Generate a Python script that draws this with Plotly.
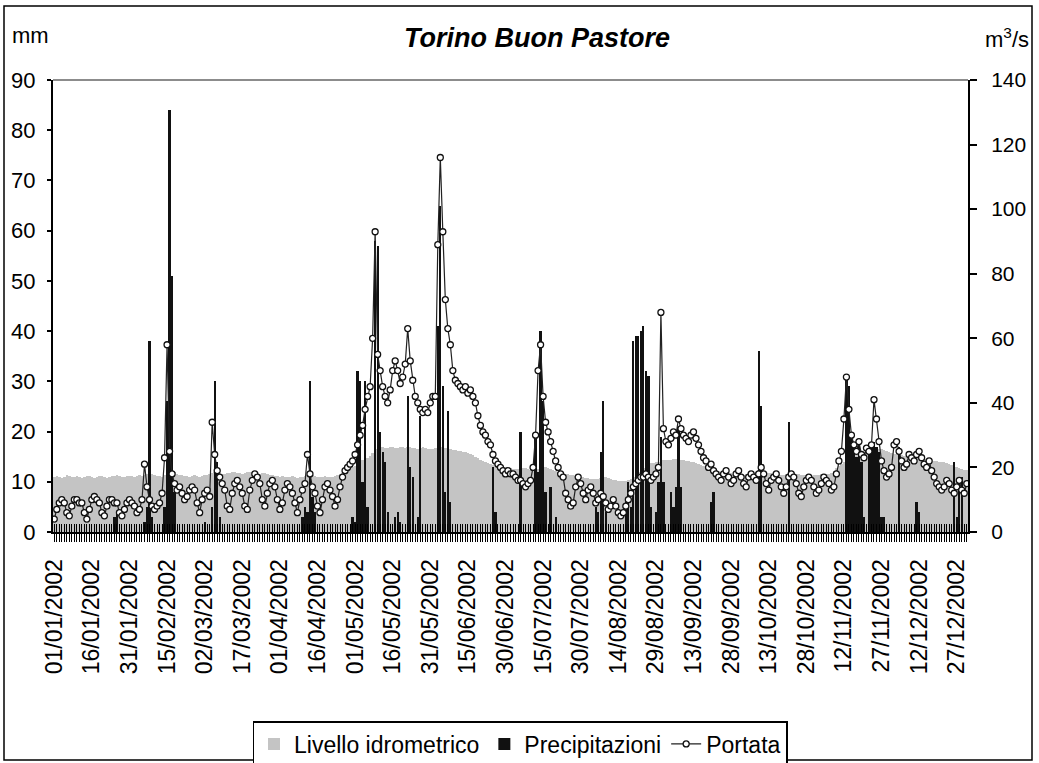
import pandas as pd
import plotly.graph_objects as go

# ---------------- data ----------------
tick_labels = ["01/01/2002", "16/01/2002", "31/01/2002", "15/02/2002", "02/03/2002",
               "17/03/2002", "01/04/2002", "16/04/2002", "01/05/2002", "16/05/2002",
               "31/05/2002", "15/06/2002", "30/06/2002", "15/07/2002", "30/07/2002",
               "14/08/2002", "29/08/2002", "13/09/2002", "28/09/2002", "13/10/2002",
               "28/10/2002", "12/11/2002", "27/11/2002", "12/12/2002", "27/12/2002"]

# Livello idrometrico (grey area, left axis)
liv_jan = [11, 11.2, 11, 10.8, 11, 11.3, 11.1, 10.9, 11, 11.2, 11, 10.8, 10.9, 11.2, 11.1, 11, 10.8, 11, 11.2, 11.1,
           10.9, 10.8, 11, 11.2, 11.1, 11.4, 11.2, 11, 10.9, 11.1, 11.2]
liv_feb = [11.2, 11, 11.1, 11.3, 11.2, 11.4, 11.6, 11.8, 11.5, 11.3, 11.2, 11.1, 11, 11.3, 11.6, 12, 12.2, 11.9, 11.6, 11.4,
           11.3, 11.2, 11.1, 11, 11.2, 11.3, 11.1, 11]
liv_mar = [11.2, 11.3, 11.4, 11.6, 11.8, 12, 11.9, 11.7, 11.6, 11.5, 11.7, 11.8, 11.9, 12, 11.8, 11.7, 11.6, 11.8, 11.9, 12,
           11.9, 11.7, 11.6, 11.5, 11.7, 11.8, 11.6, 11.4, 11.3, 11.2, 11.1]
liv_apr = [11, 11.1, 11, 10.9, 11, 11.1, 11, 10.8, 10.9, 11, 11.2, 11.3, 11.5, 11.4, 11.2, 11, 10.9, 11, 11.1, 11,
           10.9, 11, 11.2, 11.4, 11.6, 11.8, 12, 12.3, 12.6, 13]
liv_may = [13.2, 13.5, 14, 14.3, 14.5, 14.8, 15.2, 15.8, 16.3, 16.6, 16.8, 16.9, 16.7, 16.8, 17, 16.9, 16.8, 16.7, 16.9, 17,
           16.8, 16.9, 17, 16.8, 16.7, 16.6, 16.8, 16.9, 16.7, 16.6, 16.5]
liv_jun = [16.6, 16.8, 17, 16.9, 16.8, 16.7, 16.6, 16.5, 16.4, 16.3, 16.2, 16.1, 16, 15.9, 15.8, 15.6, 15.3, 15, 14.7, 14.4,
           14.1, 13.9, 13.7, 13.5, 13.4, 13.3, 13.2, 13.1, 13, 12.9]
liv_jul = [12.8, 12.7, 12.6, 12.6, 12.5, 12.6, 12.8, 12.7, 12.5, 12.4, 12.3, 12.4, 12.6, 13, 13.2, 13, 12.8, 12.5, 12.3, 12.1,
           12, 11.8, 11.7, 11.6, 11.5, 11.4, 11.3, 11.2, 11.1, 11, 10.9]
liv_aug = [10.8, 10.7, 10.6, 10.6, 10.5, 10.6, 10.8, 11, 10.9, 10.7, 10.5, 10.4, 10.3, 10.2, 10.2, 10.1, 10.2, 10.4, 10.6, 11,
           11.5, 12, 12.4, 12.8, 13.2, 13.5, 13.7, 13.8, 13.9, 14, 14.2]
liv_sep = [14.3, 14.4, 14.3, 14.4, 14.5, 14.6, 14.5, 14.4, 14.3, 14.2, 14.1, 14, 13.9, 13.7, 13.5, 13.3, 13.1, 12.9, 12.7, 12.5,
           12.4, 12.3, 12.1, 12, 11.9, 11.8, 11.8, 11.7, 11.6, 11.6]
liv_oct = [11.5, 11.5, 11.4, 11.5, 11.6, 11.7, 11.8, 12, 12.3, 12.4, 12.2, 12, 11.8, 11.7, 11.6, 11.5, 11.5, 11.4, 11.4, 11.5,
           11.8, 11.9, 11.7, 11.6, 11.5, 11.4, 11.3, 11.3, 11.2, 11.2, 11.3]
liv_nov = [11.3, 11.4, 11.5, 11.6, 11.5, 11.6, 11.8, 12.2, 12.7, 13.2, 13.6, 14, 14.4, 14.8, 15, 15.2, 15.4, 15.6, 15.8, 16,
           16.1, 16.2, 16.3, 16.4, 16.5, 16.6, 16.5, 16.4, 16.2, 16]
liv_dec = [15.8, 15.6, 15.5, 15.4, 15.3, 15.2, 15.1, 15, 14.9, 14.8, 14.8, 14.7, 14.6, 14.5, 14.5, 14.4, 14.3, 14.2, 14.1, 14,
           14, 13.9, 13.7, 13.5, 13.3, 13.1, 12.9, 12.7, 12.5, 12.4, 12.3]

# Precipitazioni (black bars, mm, left axis)
pre_jan = [0, 0, 0, 0, 0, 0, 0, 0, 0, 0, 0, 0, 0, 0, 0, 0, 0, 0, 0, 0, 0, 0, 0, 0, 3, 4, 0, 0, 0, 0, 0]
pre_feb = [0, 0, 0, 0, 0, 2, 5, 38, 3, 0, 0, 0, 0, 5, 26, 84, 51, 8, 0, 0, 0, 0, 0, 0, 0, 0, 0, 0]
pre_mar = [0, 2, 0, 0, 5, 30, 14, 3, 0, 0, 0, 0, 0, 0, 0, 0, 0, 0, 0, 0, 0, 0, 0, 0, 0, 0, 0, 0, 0, 0, 0]
pre_apr = [0, 0, 0, 0, 0, 0, 0, 0, 0, 3, 5, 4, 30, 7, 4, 0, 0, 0, 0, 0, 0, 0, 0, 0, 0, 0, 0, 0, 0, 3]
pre_may = [2, 32, 30, 10, 30, 5, 0, 0, 58, 57, 20, 16, 14, 4, 0, 0, 3, 4, 2, 0, 0, 27, 13, 11, 0, 3, 23, 0, 0, 0, 0]
pre_jun = [0, 0, 41, 65, 29, 8, 24, 6, 0, 0, 0, 0, 0, 0, 0, 0, 0, 0, 0, 0, 0, 0, 0, 0, 13, 4, 0, 0, 0, 0]
pre_jul = [0, 0, 0, 0, 0, 20, 0, 0, 0, 0, 0, 20, 12, 40, 26, 8, 0, 9, 0, 3, 0, 0, 0, 0, 0, 0, 0, 0, 0, 0, 0]
pre_aug = [0, 0, 0, 0, 5, 4, 16, 26, 4, 0, 0, 0, 0, 0, 0, 0, 6, 10, 5, 38, 39, 39, 40, 41, 32, 31, 5, 0, 4, 10, 19]
pre_sep = [10, 0, 0, 8, 5, 9, 21, 9, 0, 0, 0, 0, 0, 0, 0, 0, 0, 0, 0, 6, 8, 0, 0, 0, 0, 0, 0, 0, 0, 0]
pre_oct = [0, 0, 0, 0, 0, 0, 0, 0, 36, 25, 0, 0, 0, 0, 0, 0, 0, 0, 0, 0, 22, 0, 0, 0, 0, 0, 0, 0, 0, 0, 0]
pre_nov = [0, 0, 0, 0, 0, 0, 0, 0, 0, 0, 0, 0, 31, 29, 20, 17, 15, 18, 14, 3, 0, 17, 18, 18, 17, 16, 3, 3, 0, 0]
pre_dec = [0, 0, 0, 17, 0, 0, 0, 0, 0, 0, 6, 4, 0, 0, 0, 0, 0, 0, 0, 0, 0, 0, 0, 0, 0, 14, 3, 10, 11, 0, 0]

# Portata (line, m3/s, right axis)
por_jan = [4, 7, 9, 10, 9, 6, 5, 8, 10, 10, 9, 9, 6, 4, 7, 10, 11, 10, 9, 6, 5, 8, 10, 10, 9, 9, 6, 5, 7, 9, 10]
por_feb = [9, 8, 6, 7, 10, 21, 14, 10, 8, 7, 8, 9, 12, 23, 58, 25, 18, 15, 13, 14, 12, 10, 11, 13, 14, 13, 9, 6]
por_mar = [10, 12, 13, 11, 34, 24, 19, 17, 15, 13, 8, 7, 12, 15, 16, 14, 12, 8, 7, 13, 16, 18, 17, 15, 10, 8, 12, 15, 16, 14, 10]
por_apr = [7, 9, 13, 15, 14, 12, 9, 6, 10, 13, 15, 24, 18, 14, 12, 8, 6, 10, 14, 15, 13, 11, 8, 10, 14, 17, 19, 20, 21, 22]
por_may = [24, 27, 30, 33, 38, 42, 45, 60, 93, 55, 50, 45, 42, 40, 44, 50, 53, 50, 46, 48, 52, 63, 53, 47, 42, 40, 38, 37, 38, 37, 40]
por_jun = [42, 42, 89, 116, 93, 72, 63, 58, 50, 47, 46, 45, 44, 45, 43, 44, 42, 40, 36, 33, 31, 30, 28, 27, 24, 22, 21, 20, 19, 18]
por_jul = [19, 18, 18, 17, 16, 16, 15, 14, 15, 16, 20, 30, 50, 58, 42, 34, 31, 28, 25, 22, 20, 18, 17, 12, 10, 8, 9, 14, 17, 15, 12]
por_aug = [10, 13, 14, 12, 9, 10, 12, 11, 9, 7, 8, 10, 8, 6, 5, 6, 8, 10, 12, 14, 15, 16, 17, 17, 18, 17, 16, 17, 18, 20, 68]
por_sep = [32, 28, 27, 29, 31, 30, 35, 32, 30, 29, 28, 30, 31, 29, 27, 25, 23, 22, 20, 21, 19, 18, 17, 16, 18, 19, 17, 15, 16, 18]
por_oct = [19, 17, 15, 14, 17, 18, 17, 16, 18, 20, 18, 15, 13, 16, 17, 18, 16, 14, 12, 14, 17, 18, 17, 15, 12, 11, 14, 16, 17, 16, 14]
por_nov = [12, 13, 15, 17, 16, 15, 13, 14, 18, 22, 25, 35, 48, 38, 30, 27, 25, 28, 24, 23, 26, 25, 27, 41, 35, 28, 22, 19, 17, 18]
por_dec = [20, 27, 28, 25, 22, 20, 21, 24, 23, 22, 24, 25, 23, 21, 20, 22, 19, 17, 15, 14, 13, 14, 16, 15, 13, 12, 14, 16, 13, 12, 15]

livello = (liv_jan + liv_feb + liv_mar + liv_apr + liv_may + liv_jun +
           liv_jul + liv_aug + liv_sep + liv_oct + liv_nov + liv_dec)
precip = (pre_jan + pre_feb + pre_mar + pre_apr + pre_may + pre_jun +
          pre_jul + pre_aug + pre_sep + pre_oct + pre_nov + pre_dec)
portata = (por_jan + por_feb + por_mar + por_apr + por_may + por_jun +
           por_jul + por_aug + por_sep + por_oct + por_nov + por_dec)

dates = pd.date_range("2002-01-01", "2002-12-31", freq="D")
assert len(livello) == len(precip) == len(portata) == len(dates) == 365

tick_vals = pd.to_datetime(tick_labels, format="%d/%m/%Y")
DAY = 86400000
x_range = [dates[0] - pd.Timedelta(hours=12), dates[-1] + pd.Timedelta(hours=12)]

FONT = "Liberation Sans, Arial, sans-serif"

# ---------------- figure ----------------
fig = go.Figure()
fig.add_trace(go.Bar(x=dates, y=livello, name="Livello idrometrico", width=DAY,
                     marker=dict(color="#c4c4c4", line=dict(width=0)),
                     xaxis="x", yaxis="y"))
fig.add_trace(go.Bar(x=dates, y=precip, name="Precipitazioni", width=0.9 * DAY,
                     marker=dict(color="#111111", line=dict(width=0)),
                     xaxis="x", yaxis="y"))
fig.add_trace(go.Scatter(x=dates, y=portata, name="Portata", mode="lines+markers",
                         line=dict(color="#222222", width=1.2),
                         marker=dict(symbol="circle", size=6, color="white",
                                     line=dict(color="#111111", width=1.3)),
                         xaxis="x2", yaxis="y2"))

W, H = 1039, 763
L, R, T, B = 53, 968, 80, 532   # plot area in pixels


def px_x(p):
    return (p - L) / (R - L)


def px_y(p):
    return (B - p) / (B - T)


fig.update_layout(
    width=W, height=H,
    margin=dict(l=L, r=W - R, t=T, b=H - B, pad=0, autoexpand=False),
    paper_bgcolor="white", plot_bgcolor="white",
    barmode="overlay", bargap=0,
    font=dict(family=FONT, color="black", size=20),
    xaxis=dict(type="date", range=x_range, tickmode="array", tickvals=tick_vals,
               ticktext=tick_labels, tickangle=-90, tickfont=dict(size=23),
               ticks="outside", ticklen=8, tickcolor="black", tickwidth=1,
               minor=dict(ticks="outside", ticklen=8, dtick=DAY, tick0="2002-01-01",
                          tickcolor="black", tickwidth=1, showgrid=False),
               showline=True, linecolor="black", linewidth=2, automargin=False,
               showgrid=False, zeroline=False, ticklabelstandoff=8),
    xaxis2=dict(type="date", range=x_range, overlaying="x", anchor="y2", side="bottom",
                tickmode="array", tickvals=tick_vals, showticklabels=False,
                ticks="inside", ticklen=8, tickcolor="black", tickwidth=1,
                minor=dict(ticks="inside", ticklen=8, dtick=DAY, tick0="2002-01-01",
                           tickcolor="black", tickwidth=1, showgrid=False),
                showline=False, showgrid=False, zeroline=False, automargin=False),
    yaxis=dict(range=[0, 90], tick0=0, dtick=10, ticks="outside", ticklen=4,
               tickcolor="black", tickwidth=2, showline=True, linecolor="black",
               linewidth=2, showgrid=False, zeroline=False, tickfont=dict(size=22),
               ticklabelstandoff=7, automargin=False),
    yaxis2=dict(range=[0, 140], tick0=0, dtick=20, overlaying="y", side="right",
                anchor="x2", ticks="outside", ticklen=7, tickcolor="black", tickwidth=2,
                showline=True, linecolor="black", linewidth=2, showgrid=False,
                zeroline=False, tickfont=dict(size=21), ticklabelstandoff=10,
                automargin=False),
    yaxis3=dict(range=[0, 90], tick0=0, dtick=10, overlaying="y", side="left",
                ticks="inside", ticklen=6, tickcolor="black", tickwidth=2,
                showticklabels=False, showline=False, showgrid=False, zeroline=False,
                automargin=False),
    yaxis4=dict(range=[0, 140], tick0=0, dtick=20, overlaying="y", side="right",
                ticks="inside", ticklen=7, tickcolor="black", tickwidth=2,
                showticklabels=False, showline=False, showgrid=False, zeroline=False,
                automargin=False),
    legend=dict(orientation="h", x=px_x(520), xanchor="center", y=px_y(721), yanchor="top",
                bordercolor="black", borderwidth=1.5, bgcolor="white",
                font=dict(size=23, family=FONT), itemwidth=30, tracegroupgap=0),
    showlegend=True,
    shapes=[
        dict(type="line", xref="paper", yref="paper", x0=0, x1=1, y0=1, y1=1,
             line=dict(color="#8c8c8c", width=2)),
        dict(type="rect", xref="paper", yref="paper",
             x0=px_x(4), x1=px_x(1032), y0=px_y(760), y1=px_y(6),
             line=dict(color="black", width=1.5), fillcolor="rgba(0,0,0,0)", layer="below"),
    ],
    annotations=[
        dict(text="<b><i>Torino Buon Pastore</i></b>", xref="paper", yref="paper",
             x=px_x(537), y=px_y(38), xanchor="center", yanchor="middle",
             showarrow=False, font=dict(size=27, family=FONT)),
        dict(text="mm", xref="paper", yref="paper", x=px_x(10), y=px_y(35),
             xanchor="left", yanchor="middle", showarrow=False, font=dict(size=22)),
        dict(text="m<sup>3</sup>/s", xref="paper", yref="paper", x=px_x(1031), y=px_y(38),
             xanchor="right", yanchor="middle", showarrow=False, font=dict(size=22)),
    ],
)

# remove the browser's default page margin so the figure sits at the window's origin
fig.write_html("out.html", config={"displayModeBar": False},
               post_script="document.body.style.margin='0';document.body.style.padding='0';")
